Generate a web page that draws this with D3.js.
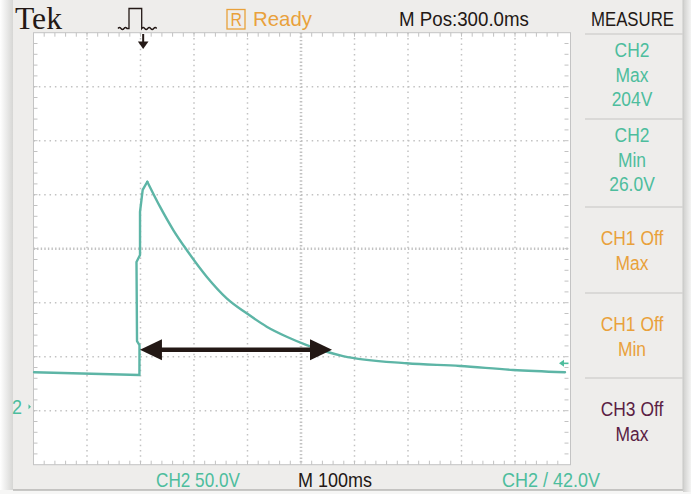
<!DOCTYPE html>
<html>
<head>
<meta charset="utf-8">
<script src="https://cdn.jsdelivr.net/npm/d3@7"></script>
<style>
body { margin: 0; background: #fff; }
svg { display: block; font-family: "Liberation Sans", Arial, sans-serif; }
</style>
</head>
<body>
<svg id="scope" width="691" height="494"></svg>
<script>
// CH2 trace: time in ms from left edge, volts
var traceTime = [1, 198, 198.1, 193.5, 192.5, 199.1, 199.1, 204.1, 212.7, 236.4, 261.3, 286.4, 323.7, 361.1, 398.5, 435.9, 473.3, 510.7, 548, 578.5, 697.6, 797.2, 896.3, 993.5];
var traceVolt = [35.6, 33.1, 60.8, 64.5, 137.7, 144.2, 184, 204.4, 212, 188.9, 167.3, 148.8, 124.1, 104.1, 90.2, 77.8, 68.5, 60.8, 54.6, 50.6, 43.9, 41.4, 37.7, 35.6];
var peakIndex = 8;

var triggerTime = 205;      // ms, marker at top
var triggerLevel = 42;      // V, marker at right
var arrowTime = [199, 558]; // black double arrow
var arrowVolt = 56.5;

var measureText = [["CH2", "Max", "204V"], ["CH2", "Min", "26.0V"], ["CH1 Off", "Max"], ["CH1 Off", "Min"], ["CH3 Off", "Max"]];
var measureColor = ["#4dbd9d", "#4dbd9d", "#e9a13b", "#e9a13b", "#5b1e44"];
var sectionTop = [34, 119, 207, 293, 378];

var teal = "#4dbd9d", orange = "#e9a13b", ink = "#231815";

var svg = d3.select("#scope");

var x = d3.scaleLinear().domain([0, 1000]).range([33.5, 568.5]);
var y = d3.scaleLinear().domain([-50, 350]).range([464.7, 32.7]);

// background / bezel
var defs = svg.append("defs");
var lg = defs.append("linearGradient").attr("id", "shadeL");
lg.append("stop").attr("offset", "0%").attr("stop-color", "#ffffff");
lg.append("stop").attr("offset", "100%").attr("stop-color", "#d6d6d4");
var rg = defs.append("linearGradient").attr("id", "shadeR");
rg.append("stop").attr("offset", "0%").attr("stop-color", "#cfcfcd");
rg.append("stop").attr("offset", "100%").attr("stop-color", "#f4f4f3");

svg.append("rect").attr("width", 691).attr("height", 494).attr("fill", "#f6f6f5");
svg.append("rect").attr("x", 0).attr("y", 0).attr("width", 13).attr("height", 490).attr("fill", "url(#shadeL)");
svg.append("rect").attr("x", 683).attr("y", 0).attr("width", 8).attr("height", 492).attr("fill", "url(#shadeR)");
svg.append("rect").attr("x", 13).attr("y", 0).attr("width", 670).attr("height", 490).attr("fill", "#eeedeb");
svg.append("line").attr("x1", 13).attr("x2", 683).attr("y1", 490).attr("y2", 490)
    .attr("stroke", "#9a9a98").attr("stroke-width", 1.2);
svg.append("line").attr("x1", 683).attr("x2", 683).attr("y1", 0).attr("y2", 490)
    .attr("stroke", "#c9c9c7").attr("stroke-width", 1);

// plot area
svg.append("rect")
    .attr("x", x(0)).attr("y", y(350))
    .attr("width", x(1000) - x(0) + 2).attr("height", y(-50) - y(350))
    .attr("fill", "#fff").attr("stroke", "#c4c4c4").attr("stroke-width", 1);

var grid = svg.append("g").attr("stroke", "#c2c2c2");
var xDiv = d3.range(100, 1000, 100), yDiv = d3.range(0, 350, 50);

grid.selectAll(".vg").data(xDiv).enter().append("line")
    .attr("x1", d => x(d)).attr("x2", d => x(d))
    .attr("y1", y(350)).attr("y2", y(-50))
    .attr("stroke-width", d => d == 500 ? 2.6 : 1.5)
    .attr("stroke-dasharray", d => d == 500 ? "1.4,2.2" : "1.5,3.85");
grid.selectAll(".hg").data(yDiv).enter().append("line")
    .attr("y1", d => y(d)).attr("y2", d => y(d))
    .attr("x1", x(0)).attr("x2", x(1000))
    .attr("stroke-width", d => d == 150 ? 2.6 : 1.5)
    .attr("stroke-dasharray", d => d == 150 ? "1.4,2.2" : "1.5,3.85");

// border minor ticks
var xMinor = d3.range(20, 1000, 20), yMinor = d3.range(-40, 350, 10);
grid.selectAll(".tt").data(xMinor).enter().append("line")
    .attr("x1", d => x(d)).attr("x2", d => x(d)).attr("y1", y(350)).attr("y2", y(350) + 4);
grid.selectAll(".tb").data(xMinor).enter().append("line")
    .attr("x1", d => x(d)).attr("x2", d => x(d)).attr("y1", y(-50)).attr("y2", y(-50) - 4);
grid.selectAll(".tl").data(yMinor).enter().append("line")
    .attr("y1", d => y(d)).attr("y2", d => y(d)).attr("x1", x(0)).attr("x2", x(0) + 4);
grid.selectAll(".tr").data(yMinor).enter().append("line")
    .attr("y1", d => y(d)).attr("y2", d => y(d)).attr("x1", x(1000)).attr("x2", x(1000) - 4);

// trace: rising edge straight, decay smooth
var pts = traceTime.map((t, i) => [t, traceVolt[i]]);
var rise = d3.line().x(d => x(d[0])).y(d => y(d[1]));
var decay = d3.line().x(d => x(d[0])).y(d => y(d[1])).curve(d3.curveMonotoneX);
var tr = svg.append("g").attr("fill", "none").attr("stroke", "#5db5a6")
    .attr("stroke-width", 2.4).attr("stroke-linejoin", "round").attr("stroke-linecap", "round");
tr.append("path").datum(pts.slice(0, peakIndex + 1)).attr("d", rise);
tr.append("path").datum(pts.slice(peakIndex)).attr("d", decay);

// black double arrow
var ay = y(arrowVolt), ax0 = x(arrowTime[0]), ax1 = x(arrowTime[1]);
svg.append("line").attr("x1", ax0 + 15).attr("x2", ax1 - 15).attr("y1", ay).attr("y2", ay)
    .attr("stroke", ink).attr("stroke-width", 4.5);
svg.append("path").attr("fill", ink)
    .attr("d", "M" + ax0 + "," + ay + "L" + (ax0 + 22) + "," + (ay - 10.5) + "L" + (ax0 + 22) + "," + (ay + 10.5) + "Z");
svg.append("path").attr("fill", ink)
    .attr("d", "M" + ax1 + "," + ay + "L" + (ax1 - 22) + "," + (ay - 10.5) + "L" + (ax1 - 22) + "," + (ay + 10.5) + "Z");

// trigger position marker (top)
var tx = x(triggerTime);
svg.append("line").attr("x1", tx).attr("x2", tx).attr("y1", 34).attr("y2", 43)
    .attr("stroke", ink).attr("stroke-width", 2);
svg.append("path").attr("fill", ink)
    .attr("d", "M" + (tx - 5.3) + ",41.5L" + (tx + 5.3) + ",41.5L" + tx + ",49Z");

// trigger level marker (right)
var ty = y(triggerLevel) - 2, rx = x(1000);
svg.append("line").attr("x1", rx - 6).attr("x2", rx).attr("y1", ty).attr("y2", ty)
    .attr("stroke", teal).attr("stroke-width", 1.6);
svg.append("path").attr("fill", teal)
    .attr("d", "M" + (rx - 9.5) + "," + ty + "L" + (rx - 4.5) + "," + (ty - 3.5) + "L" + (rx - 4.5) + "," + (ty + 3.5) + "Z");

// text helper: squeeze to the width seen on the screen
function label(str, x0, yb, w, size, color, family, anchor) {
    var g = svg.append("g").attr("transform", "translate(" + x0 + "," + yb + ")");
    var t = g.append("text")
        .attr("font-size", size).attr("fill", color)
        .attr("font-family", family || null)
        .attr("text-anchor", anchor || "start")
        .text(str);
    if (w) {
        var nat = t.node().getComputedTextLength();
        t.attr("transform", "scale(" + (w / nat) + ",1)");
    }
    return t;
}

// ground marker "2"
var gy = y(0);
label("2", 12, gy + 3.5, 10, 21, teal);
svg.append("path").attr("fill", teal)
    .attr("d", "M28.5," + (gy - 6.5) + "L31," + (gy - 4) + "L28.5," + (gy - 1.5) + "Z");

// trigger-type symbol
svg.append("path")
    .attr("d", "M118,28.5 q1.5,-2 3,0 q1.5,2 3,0 q1.5,-2 3,0 L129,28.5 L129,8.5 L141.7,8.5 L141.7,28.5 q1.5,-2 3,0 q1.5,2 3,0 q1.5,-2 3,0 q1.5,2 3,0 q1.5,-2 3,0")
    .attr("fill", "none").attr("stroke", ink).attr("stroke-width", 1.3);

// header and footer texts
label("Tek", 15, 29.3, 47, 32, ink, "'Liberation Serif', 'Times New Roman', serif");
svg.append("rect").attr("x", 227).attr("y", 9.5).attr("width", 18).attr("height", 19.5)
    .attr("fill", "none").attr("stroke", orange).attr("stroke-width", 1.3);
label("R", 230.5, 26, 11.5, 19, orange);
label("Ready", 253, 26, 59, 21, orange);
label("M Pos:300.0ms", 399, 26, 130, 21, ink);
label("MEASURE", 591, 26, 83, 21, ink);

label("CH2 50.0V", 156, 486.5, 84, 20, teal);
label("M  100ms", 298, 486.5, 74, 20, ink);
label("CH2  / 42.0V", 502, 486.5, 98, 20, teal);

// measure panel
var panel = svg.append("g");
panel.selectAll(".sep").data(sectionTop).enter().append("line")
    .attr("x1", 585).attr("x2", 683).attr("y1", d => d).attr("y2", d => d)
    .attr("stroke", "#d3d2d0").attr("stroke-width", 1.4);

measureText.forEach(function (rows, i) {
    var first = sectionTop[i] + (rows.length == 3 ? 22.7 : 38);
    rows.forEach(function (r, j) {
        var t = label(r, 632, first + j * 24.8, null, 21, measureColor[i], null, "middle");
        t.attr("transform", "scale(0.83,1)");
    });
});
</script>
</body>
</html>
